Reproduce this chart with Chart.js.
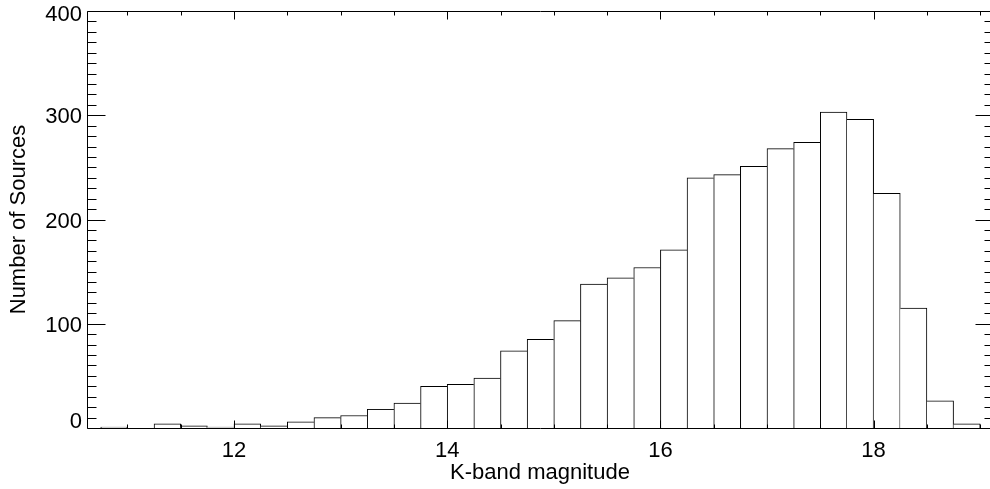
<!DOCTYPE html>
<html><head><meta charset="utf-8">
<script src="https://cdn.jsdelivr.net/npm/chart.js@4/dist/chart.umd.min.js"></script>
<style>
html,body{margin:0;padding:0;background:#fff;overflow:hidden;width:990px;height:489px}
#wrap{position:relative;width:1000px;height:489px}
canvas{display:block}
</style></head><body>
<div id="wrap"><canvas id="c" width="1000" height="489"></canvas></div>
<script>
// ---- data ----
const binLowEdges = [10.75, 11.00, 11.25, 11.50, 11.75, 12.00, 12.25, 12.50, 12.75, 13.00, 13.25,
  13.50, 13.75, 14.00, 14.25, 14.50, 14.75, 15.00, 15.25, 15.50, 15.75, 16.00, 16.25,
  16.50, 16.75, 17.00, 17.25, 17.50, 17.75, 18.00, 18.25, 18.50, 18.75];
const counts = [1, 0, 4, 2, 1, 4, 2, 6, 10, 12, 18,
  24, 40, 42, 48, 74, 85, 103, 138, 144, 154, 171, 240,
  243, 251, 268, 274, 303, 296, 225, 115, 26, 4];
const binWidth = 0.25;
const xRange = [10.621, 19.12];
const yRange = [0, 400];
const xMajorTicks = [12, 14, 16, 18];
const xTickLabels = ['12', '14', '16', '18'];
const yMajorTicks = [0, 100, 200, 300, 400];
const yTickLabels = ['0', '100', '200', '300', '400'];
const xMinorStep = 0.5;
const yMinorStep = 10;
const xTitle = 'K-band magnitude';
const yTitle = 'Number of Sources';

const FONT = "'Liberation Sans', Arial, Helvetica, sans-serif";

const framePlugin = {
  id: 'frame',
  afterDraw(chart) {
    const {ctx, chartArea: a, scales: {x, y}} = chart;
    ctx.save();
    ctx.strokeStyle = '#000';
    ctx.lineWidth = 1;
    const L = Math.round(a.left) + 0.5, R = Math.round(a.right) + 0.5;
    const T = Math.round(a.top) + 0.5, B = Math.round(a.bottom) + 0.5;
    ctx.beginPath();
    ctx.rect(L, T, R - L, B - T);
    ctx.stroke();
    ctx.beginPath();
    // x ticks (bottom & top, pointing inward)
    const xStart = Math.ceil(x.min / xMinorStep) * xMinorStep;
    for (let v = xStart; v <= x.max + 1e-9; v += xMinorStep) {
      const vv = Math.round(v * 1000) / 1000;
      const major = xMajorTicks.some(t => Math.abs(t - vv) < 1e-6);
      const len = major ? 8 : 4;
      const px = Math.round(x.getPixelForValue(vv)) + 0.5;
      ctx.moveTo(px, B); ctx.lineTo(px, B - len);
      ctx.moveTo(px, T); ctx.lineTo(px, T + len);
    }
    // y ticks (left & right)
    for (let v = y.min; v <= y.max + 1e-9; v += yMinorStep) {
      const major = yMajorTicks.includes(v);
      const len = major ? 18 : 9;
      const py = Math.round(y.getPixelForValue(v)) + 0.5;
      ctx.moveTo(L, py); ctx.lineTo(L + len, py);
      ctx.moveTo(R, py); ctx.lineTo(R - len, py);
    }
    ctx.stroke();
    // y tick labels
    ctx.fillStyle = '#000';
    ctx.font = '22px ' + FONT;
    ctx.textAlign = 'right';
    ctx.textBaseline = 'middle';
    yMajorTicks.forEach((v, i) => {
      const py = y.getPixelForValue(v);
      const yc = Math.min(Math.max(py + 2, a.top + 4), a.bottom - 6.5);
      ctx.fillText(yTickLabels[i], a.left - 5, yc);
    });
    ctx.restore();
  }
};

function edgeWidths(c) {
  if (c.type !== 'data') return 1;
  const i = c.dataIndex;
  const v = counts[i];
  const p = i > 0 ? counts[i - 1] : 0;
  const n = i < counts.length - 1 ? counts[i + 1] : 0;
  return {top: 1, bottom: 0, left: v >= p ? 1 : 0, right: v > n ? 1 : 0};
}

new Chart(document.getElementById('c'), {
  type: 'bar',
  data: {
    datasets: [{
      data: binLowEdges.map((lo, i) => ({x: lo + binWidth / 2, y: counts[i]})),
      backgroundColor: '#fff',
      borderColor: '#000',
      borderWidth: edgeWidths,
      borderSkipped: 'start',
      barPercentage: 1,
      categoryPercentage: 1
    }]
  },
  options: {
    responsive: false,
    animation: false,
    devicePixelRatio: 1,
    layout: {padding: {top: 11, right: 7, left: 0, bottom: 0}},
    plugins: {legend: {display: false}, tooltip: {enabled: false}},
    scales: {
      x: {
        type: 'linear', min: xRange[0], max: xRange[1], offset: false,
        grid: {display: false, drawTicks: false}, border: {display: false},
        afterBuildTicks: s => { s.ticks = xMajorTicks.map(v => ({value: v})); },
        ticks: {color: '#000', font: {family: FONT, size: 22}, padding: 10, maxRotation: 0, autoSkip: false,
          callback: (v, i) => xTickLabels[i]},
        title: {display: true, text: xTitle, color: '#000', font: {family: FONT, size: 22, lineHeight: 1.2}, padding: {top: 0, bottom: 3}},
        afterFit: s => { s.height = 61; }
      },
      y: {
        type: 'linear', min: yRange[0], max: yRange[1],
        grid: {display: false, drawTicks: false}, border: {display: false},
        afterBuildTicks: s => { s.ticks = yMajorTicks.map(v => ({value: v})); },
        ticks: {display: false},
        title: {display: true, text: yTitle, color: '#000', font: {family: FONT, size: 22, lineHeight: 1.2}, padding: {top: 6, bottom: 0}},
        afterFit: s => { s.width = 87; }
      }
    }
  },
  plugins: [framePlugin]
});
</script>
</body></html>
